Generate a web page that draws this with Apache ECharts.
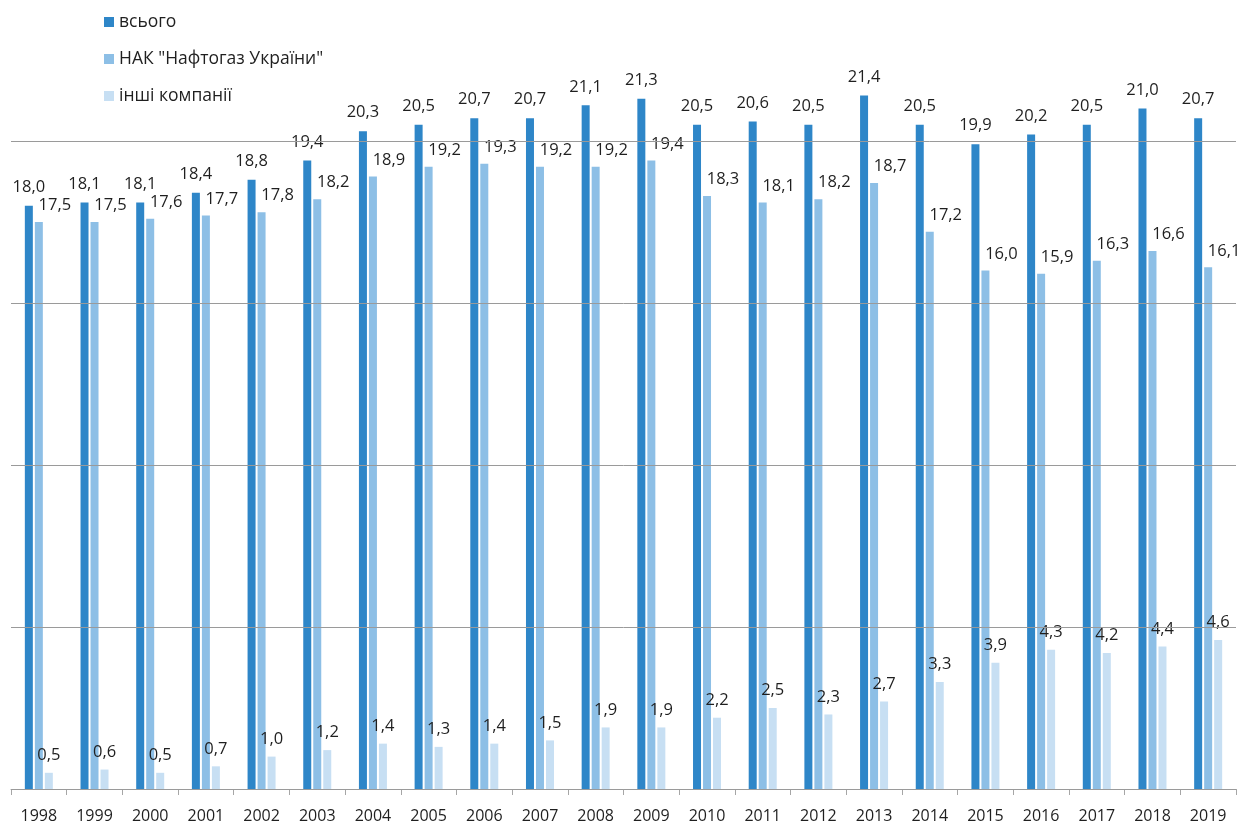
<!DOCTYPE html>
<html>
<head>
<meta charset="utf-8">
<style>
  html, body { margin: 0; padding: 0; background: #ffffff; }
  #chart { width: 1253px; height: 827px; }
</style>
<script src="https://cdn.jsdelivr.net/npm/echarts@6/dist/echarts.min.js"></script>
</head>
<body>
<div id="chart"></div>
<script>
// Gas production by year, bcm
const years = ['1998', '1999', '2000', '2001', '2002', '2003', '2004', '2005', '2006', '2007', '2008',
               '2009', '2010', '2011', '2012', '2013', '2014', '2015', '2016', '2017', '2018', '2019'];
const seriesNames = ['всього', 'НАК "Нафтогаз України"', 'інші компанії'];
const totalValues = [18.0, 18.1, 18.1, 18.4, 18.8, 19.4, 20.3, 20.5, 20.7, 20.7, 21.1,
                     21.3, 20.5, 20.6, 20.5, 21.4, 20.5, 19.9, 20.2, 20.5, 21.0, 20.7];
const naftogazValues = [17.5, 17.5, 17.6, 17.7, 17.8, 18.2, 18.9, 19.2, 19.3, 19.2, 19.2,
                        19.4, 18.3, 18.1, 18.2, 18.7, 17.2, 16.0, 15.9, 16.3, 16.6, 16.1];
const otherValues = [0.5, 0.6, 0.5, 0.7, 1.0, 1.2, 1.4, 1.3, 1.4, 1.5, 1.9,
                     1.9, 2.2, 2.5, 2.3, 2.7, 3.3, 3.9, 4.3, 4.2, 4.4, 4.6];
// visible part of the value axis (its top edge sits at the top of the canvas)
const axisMax = 24.35;
const axisStep = 5;

const FONT = '"Open Sans", "Noto Sans", sans-serif';
const TEXT_COLOR = '#1f1f1f';
const GRID_COLOR = '#9a9a9a';
const colors = ['#2e86c8', '#8dbfe6', '#c7dff3'];

const fmt = p => p.value.toFixed(1).replace('.', ',');

function barSeries(name, data, color, label) {
  return {
    name: name,
    type: 'bar',
    data: data,
    barWidth: 8,
    barGap: '25%',
    itemStyle: { color: color },
    label: Object.assign({
      show: true,
      position: 'top',
      formatter: fmt,
      color: TEXT_COLOR,
      fontFamily: FONT,
      fontSize: 16.5
    }, label)
  };
}

// split lines at every step; the closing line at the axis top is left transparent
const splitColors = [];
for (let v = 0; v < axisMax; v += axisStep) splitColors.push(GRID_COLOR);
splitColors.push('rgba(0,0,0,0)');

const chart = echarts.init(document.getElementById('chart'), null, { renderer: 'canvas' });
chart.setOption({
  animation: false,
  backgroundColor: '#ffffff',
  color: colors,
  legend: {
    orient: 'vertical',
    left: 99,
    top: 8,
    itemWidth: 10,
    itemHeight: 10,
    itemGap: 19,
    icon: 'rect',
    textStyle: { fontFamily: FONT, fontSize: 17.5, color: TEXT_COLOR },
    data: seriesNames
  },
  grid: { left: 11, right: 17, top: 0, bottom: 38, containLabel: false },
  xAxis: {
    type: 'category',
    data: years,
    boundaryGap: true,
    axisLine: { show: true, lineStyle: { color: '#a6a6a6', width: 1 } },
    axisTick: { show: true, length: 6, lineStyle: { color: '#a6a6a6' } },
    axisLabel: { color: TEXT_COLOR, fontFamily: FONT, fontSize: 16, margin: 19 }
  },
  yAxis: {
    type: 'value',
    min: 0,
    max: axisMax,
    interval: axisStep,
    z: 5,
    axisLine: { show: false },
    axisTick: { show: false },
    axisLabel: { show: false },
    splitLine: { show: true, lineStyle: { color: splitColors, width: 1 } }
  },
  series: [
    barSeries(seriesNames[0], totalValues, colors[0], { distance: 10 }),
    barSeries(seriesNames[1], naftogazValues, colors[1], { distance: 8, offset: [16, 0] }),
    barSeries(seriesNames[2], otherValues, colors[2], { distance: 9 })
  ]
});
</script>
</body>
</html>
